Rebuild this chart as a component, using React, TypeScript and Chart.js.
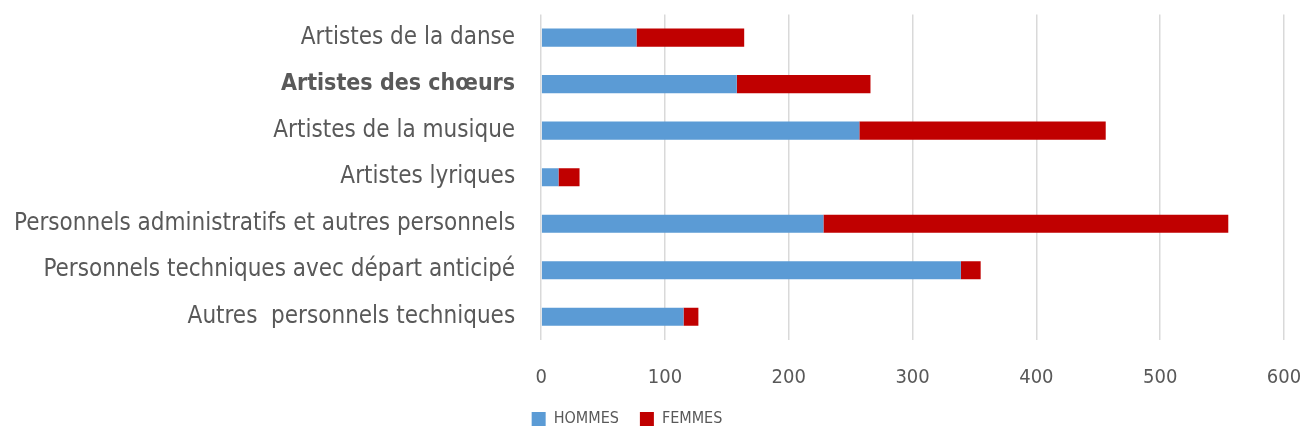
import React, { useEffect, useRef } from "react";
import { Chart, registerables } from "chart.js";

Chart.register(...registerables);

const categories = [
  "Artistes de la danse",
  "Artistes des chœurs",
  "Artistes de la musique",
  "Artistes lyriques",
  "Personnels administratifs et autres personnels",
  "Personnels techniques avec départ anticipé",
  "Autres  personnels techniques",
];
const hommes = [77, 158, 257, 14, 228, 339, 115];
const femmes = [87, 108, 199, 17, 327, 16, 12];
const xTicks = [0, 100, 200, 300, 400, 500, 600];
const seriesNames = ["HOMMES", "FEMMES"];

const FONT = "'Liberation Sans Narrow', 'DejaVu Sans Condensed', 'Liberation Sans', sans-serif";

const legendShift = {
  id: "legendShift",
  afterLayout(chart: any) {
    const lg = chart.legend;
    if (lg) {
      lg.left -= 22;
      lg.right -= 22;
    }
  },
};

export default function App() {
  const ref = useRef<HTMLCanvasElement | null>(null);
  useEffect(() => {
    document.body.style.margin = "0";
    const chart = new Chart(ref.current!, {
      type: "bar",
      data: {
        labels: categories,
        datasets: [
          { label: seriesNames[0], data: hommes, backgroundColor: "#5b9bd5", barPercentage: 0.39, categoryPercentage: 1 },
          { label: seriesNames[1], data: femmes, backgroundColor: "#c00000", barPercentage: 0.39, categoryPercentage: 1 },
        ],
      },
      plugins: [legendShift],
      options: {
        indexAxis: "y",
        animation: false,
        responsive: false,
        maintainAspectRatio: false,
        layout: { padding: { top: 14, right: 25, left: 14, bottom: 4 } },
        scales: {
          x: {
            stacked: true,
            min: 0,
            max: 600,
            ticks: {
              stepSize: 100,
              color: "#595959",
              font: { family: FONT, size: 20 },
              padding: 0,
              callback: (v: any) => (xTicks.includes(Number(v)) ? String(v) : ""),
            },
            grid: {
              color: "#d9d9d9",
              lineWidth: 1.5,
              drawTicks: true,
              tickLength: 26,
              tickColor: "rgba(0,0,0,0)",
            },
            border: { display: false },
          },
          y: {
            stacked: true,
            ticks: {
              color: "#595959",
              padding: 0,
              font: (ctx: any) =>
                ctx.index === 1
                  ? { family: FONT, size: 23, weight: "bold" }
                  : { family: FONT, size: 24 },
            },
            grid: { display: false, drawTicks: true, tickLength: 26 },
            border: { display: false },
          },
        },
        plugins: {
          legend: {
            position: "bottom",
            labels: {
              color: "#595959",
              boxWidth: 14,
              boxHeight: 14,
              padding: 21,
              font: { family: FONT, size: 16 },
            },
          },
          tooltip: { enabled: false },
        },
      },
    });
    return () => chart.destroy();
  }, []);
  return (
    <div style={{ width: 1309, height: 441 }}>
      <canvas ref={ref} width={1309} height={441} style={{ width: 1309, height: 441 }} />
    </div>
  );
}
